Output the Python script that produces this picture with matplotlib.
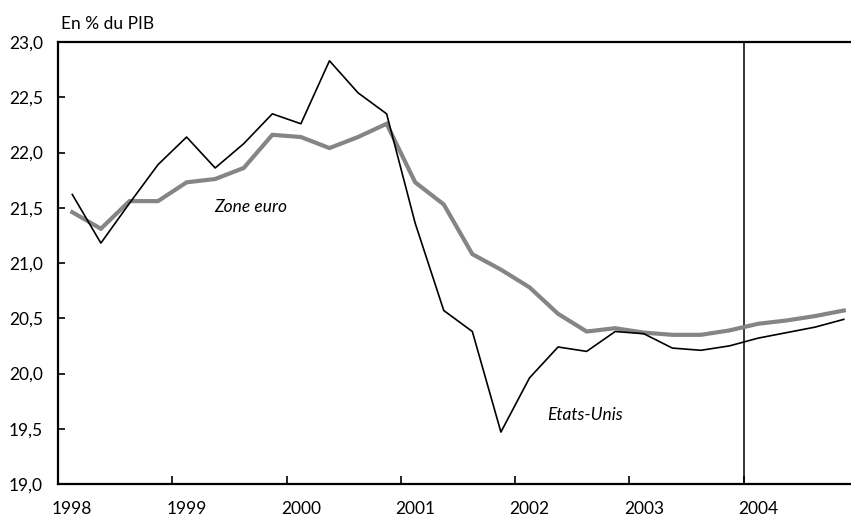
import matplotlib
matplotlib.use("Agg")
import matplotlib.pyplot as plt
import numpy as np

plt.rcParams['font.family'] = ['Lato', 'DejaVu Sans']

years = [1998, 1999, 2000, 2001, 2002, 2003, 2004]
year_labels = ["1998", "1999", "2000", "2001", "2002", "2003", "2004"]
yticks = [19.0, 19.5, 20.0, 20.5, 21.0, 21.5, 22.0, 22.5, 23.0]
ytick_labels = ["19,0", "19,5", "20,0", "20,5", "21,0", "21,5", "22,0", "22,5", "23,0"]

# Quarterly, 1998Q1 .. 2004Q4
etats_unis = [21.62, 21.18, 21.54, 21.89, 22.14, 21.86, 22.08, 22.35,
              22.26, 22.83, 22.54, 22.35, 21.36, 20.57, 20.38, 19.47,
              19.96, 20.24, 20.20, 20.38, 20.36, 20.23, 20.21, 20.25,
              20.32, 20.37, 20.42, 20.49]
zone_euro = [21.46, 21.31, 21.56, 21.56, 21.73, 21.76, 21.86, 22.16,
             22.14, 22.04, 22.14, 22.26, 21.73, 21.53, 21.08, 20.94,
             20.78, 20.54, 20.38, 20.41, 20.37, 20.35, 20.35, 20.39,
             20.45, 20.48, 20.52, 20.57]

quarters = np.array([y + (q - 0.5) / 4 for y in years for q in range(1, 5)])

fig = plt.figure(figsize=(8.51, 5.19), dpi=100)
ax = fig.add_axes([58/851, 35/519, 1 - 58/851, (484 - 42)/519])

ax.plot(quarters, zone_euro, color='#858585', lw=3.0, solid_joinstyle='miter', zorder=2)
ax.plot(quarters, etats_unis, color='black', lw=1.2, zorder=3)
ax.axvline(2004, color='black', lw=1.1, zorder=1)

ax.set_xlim(1998, 1998 + (851 - 58) / 114.3)
ax.set_ylim(19, 23)

ax.set_yticks(yticks)
ax.set_yticklabels(ytick_labels, fontsize=12.5)
ax.tick_params(axis='y', direction='in', length=5, width=1.2, pad=11)

ax.set_xticks(years)
ax.set_xticklabels([""] * len(years))
ax.set_xticks([y + 0.125 for y in years], minor=True)
ax.set_xticklabels(year_labels, minor=True, fontsize=12.5)
ax.tick_params(axis='x', which='major', direction='in', length=6, width=1.2)
ax.tick_params(axis='x', which='minor', length=0, pad=12.5)

for s in ['left', 'bottom', 'top']:
    ax.spines[s].set_linewidth(1.6)
ax.spines['right'].set_visible(False)

ax.text(1999.69, 21.51, "Zone euro", style='italic', fontsize=12.5, ha='center', va='center')
ax.text(2002.61, 19.62, "Etats-Unis", style='italic', fontsize=12.5, ha='center', va='center')

fig.text(61/851, (519 - 29)/519, "En % du PIB", fontsize=12.5, ha='left', va='baseline')

fig.savefig("out.png", dpi=100)
